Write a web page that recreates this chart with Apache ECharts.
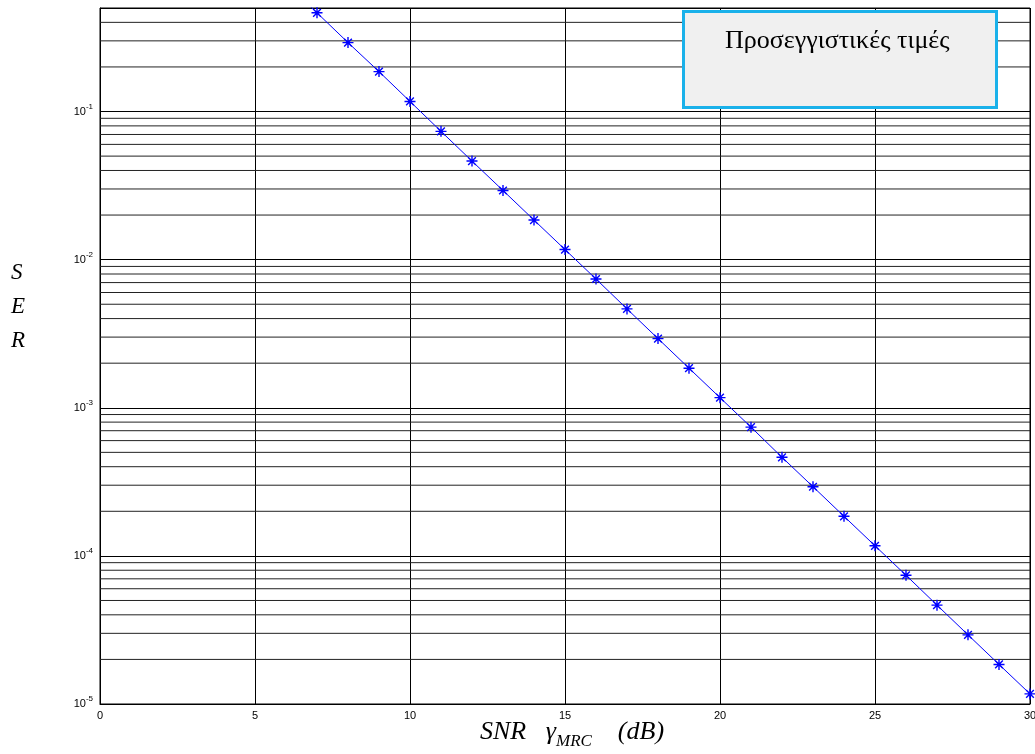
<!DOCTYPE html>
<html>
<head>
<meta charset="utf-8">
<script src="https://cdn.jsdelivr.net/npm/echarts@6/dist/echarts.min.js"></script>
<style>html,body{margin:0;padding:0;background:#fff;}#c{width:1035px;height:754px;}</style>
</head>
<body>
<div id="c"></div>
<script>
// Data
var snrDb = [6, 7, 8, 9, 10, 11, 12, 13, 14, 15, 16, 17, 18, 19, 20, 21, 22, 23, 24, 25, 26, 27, 28, 29, 30];
var serValues = [0.735, 0.464, 0.292, 0.186, 0.117, 0.0735, 0.0463, 0.0293, 0.0185, 0.0117,
  0.0074, 0.00465, 0.00293, 0.00185, 0.00117, 0.00074, 0.000463, 0.000293, 0.000185, 0.000117,
  0.000074, 0.0000465, 0.0000293, 0.0000185, 0.0000117];
var xTicks = [0, 5, 10, 15, 20, 25, 30];
var yDecades = [1e-5, 1e-4, 1e-3, 1e-2, 1e-1];
var minorMultipliers = [2, 3, 4, 5, 6, 7, 8, 9];
var yMin = 1e-5, yMax = 0.5;
var legendText = 'Προσεγγιστικές τιμές';

var xMin = xTicks[0], xMax = xTicks[xTicks.length - 1];
var minorSeries = [];
yDecades.forEach(function (d) {
  minorMultipliers.forEach(function (m) {
    var v = d * m;
    if (v < yMax) {
      minorSeries.push({
        type: 'line', z: 1, silent: true, symbol: 'none',
        data: [[xMin, v], [xMax, v]],
        lineStyle: { color: '#222', width: 1 },
        emphasis: { disabled: true }
      });
    }
  });
});

var chart = echarts.init(document.getElementById('c'), null, { renderer: 'canvas' });
var serif = 'Liberation Serif, Times New Roman, serif';
var sans = 'Liberation Sans, Arial, sans-serif';
var asterisk = 'path://M0,-10L0,10M-10,0L10,0M-7,-7L7,7M-7,7L7,-7';

chart.setOption({
  animation: false,
  backgroundColor: '#fff',
  grid: { left: 100, right: 5, top: 8, bottom: 50, show: true, borderColor: '#000', borderWidth: 1, containLabel: false, outerBoundsMode: 'none' },
  xAxis: {
    type: 'value', min: xMin, max: xMax, interval: 5,
    axisLine: { show: true, onZero: false, lineStyle: { color: '#000', width: 1 } },
    axisTick: { show: true, inside: true, length: 5, lineStyle: { color: '#000' } },
    axisLabel: { color: '#000', fontFamily: sans, fontSize: 11, margin: 6 },
    splitLine: { show: true, lineStyle: { color: '#000', width: 1 } }
  },
  yAxis: {
    type: 'log', logBase: 10, min: yMin, max: yMax,
    axisLine: { show: true, onZero: false, lineStyle: { color: '#000', width: 1 } },
    axisTick: { show: true, inside: true, length: 5, lineStyle: { color: '#000' } },
    axisLabel: {
      margin: 7,
      formatter: function (v) {
        var e = Math.round(Math.log10(v));
        if (Math.abs(Math.log10(v) - e) > 1e-6) return '';
        return '{b|10}{s|' + e + '}';
      },
      rich: {
        b: { fontFamily: sans, fontSize: 11, color: '#000' },
        s: { fontFamily: sans, fontSize: 8, color: '#000', padding: [0, 0, 10, 0] }
      }
    },
    splitLine: { show: true, lineStyle: { color: '#000', width: 1 } }
  },
  series: minorSeries.concat([
    {
      type: 'line', z: 3, clip: true,
      data: snrDb.map(function (x, i) { return [x, serValues[i]]; }),
      lineStyle: { color: '#0000ff', width: 1 },
      symbol: asterisk, symbolSize: 11,
      itemStyle: { color: 'none', borderColor: '#0000ff', borderWidth: 1.4 },
      emphasis: { disabled: true }
    }
  ]),
  graphic: [
    {
      type: 'rect', z: 100,
      shape: { x: 683.5, y: 11.5, width: 313, height: 96 },
      style: { fill: '#f0f0f0', stroke: '#1ab1ea', lineWidth: 3 }
    },
    {
      type: 'text', z: 101, left: 725, top: 28,
      style: { text: legendText, font: '26px ' + serif, fill: '#000' }
    },
    {
      type: 'text', z: 101, left: 480, top: 719,
      style: {
        text: '{a|SNR}{sp|   }{g|γ}{m|MRC}{sp|    }{a|(dB)}',
        rich: {
          a: { fontFamily: serif, fontStyle: 'italic', fontSize: 26, color: '#000' },
          sp: { fontFamily: serif, fontSize: 26 },
          g: { fontFamily: serif, fontStyle: 'italic', fontSize: 26, color: '#000' },
          m: { fontFamily: serif, fontStyle: 'italic', fontSize: 17, color: '#000', padding: [20, 0, 0, 0] }
        }
      }
    },
    {
      type: 'text', z: 101, left: 11, top: 256,
      style: { text: 'S\nE\nR', font: 'italic 23px ' + serif, fill: '#000', lineHeight: 34 }
    }
  ]
});
</script>
</body>
</html>
